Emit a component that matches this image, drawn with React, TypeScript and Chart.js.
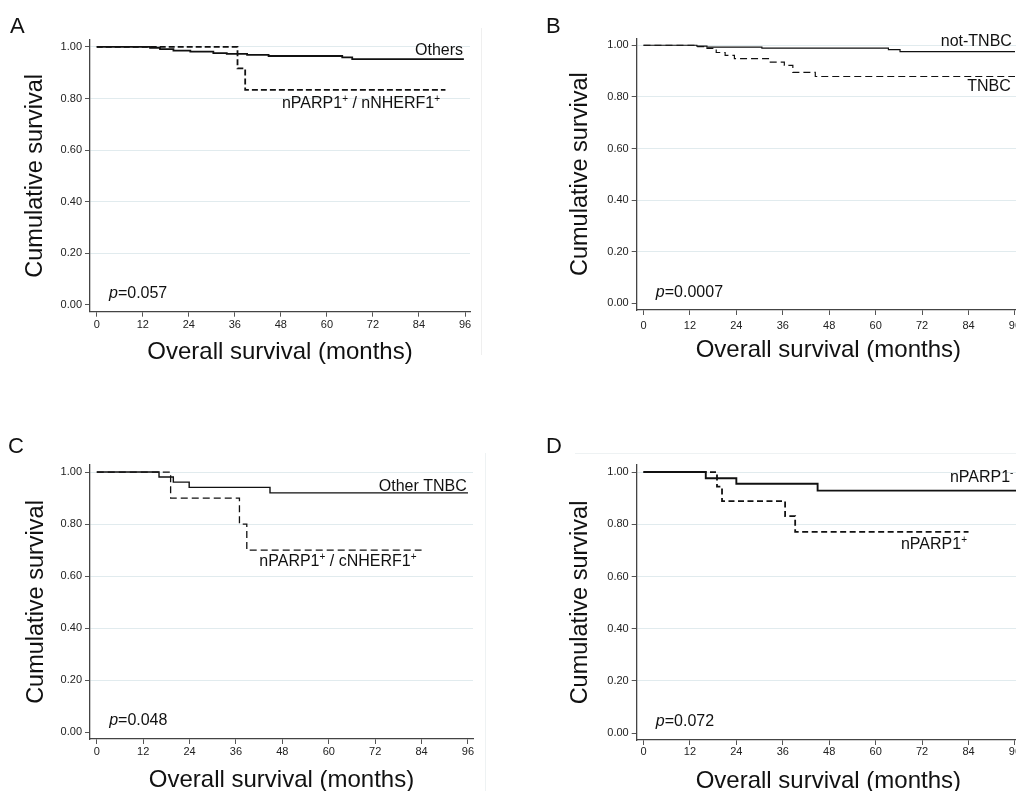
import React, { useEffect, useRef } from "react";
import { Chart, registerables } from "chart.js";

Chart.register(...registerables);

// ---------- data ----------
const xTickValues = [0, 12, 24, 36, 48, 60, 72, 84, 96];
const yTickValues = [0, 0.2, 0.4, 0.6, 0.8, 1.0];
const xAxisTitle = "Overall survival (months)";
const yAxisTitle = "Cumulative survival";
const panelLetters = ["A", "B", "C", "D"];
const pValues = ["p=0.057", "p=0.0007", "p=0.048", "p=0.072"];
const solidNames = ["Others", "not-TNBC", "Other TNBC", "nPARP1⁻"];
const dashedNames = ["nPARP1⁺ / nNHERF1⁺", "TNBC", "nPARP1⁺ / cNHERF1⁺", "nPARP1⁺"];

// Panel A
const aSolidMonths = [0, 13.9, 16.5, 20, 24.4, 30.4, 33.9, 39.2, 44.8, 64, 66.6, 95.7];
const aSolidSurv = [1, 0.997, 0.992, 0.986, 0.982, 0.976, 0.973, 0.969, 0.965, 0.96, 0.953, 0.953];
const aDashMonths = [0, 36.7, 38.7, 90.9];
const aDashSurv = [1, 0.917, 0.834, 0.834];

// Panel B
const bSolidMonths = [0, 13.8, 16.4, 30.6, 63.3, 66.3, 96];
const bSolidSurv = [1, 0.997, 0.993, 0.989, 0.983, 0.975, 0.975];
const bDashMonths = [0, 13.8, 15.9, 18.8, 21.1, 23.5, 32.5, 36.4, 38.6, 44.4, 96];
const bDashSurv = [1, 0.995, 0.988, 0.972, 0.961, 0.948, 0.935, 0.922, 0.895, 0.879, 0.879];

// Panel C
const cSolidMonths = [0, 16.1, 19.8, 23.9, 44.8, 96];
const cSolidSurv = [1, 0.981, 0.961, 0.941, 0.92, 0.92];
const cDashMonths = [0, 19.1, 36.9, 38.8, 84];
const cDashSurv = [1, 0.9, 0.8, 0.7, 0.7];

// Panel D
const dSolidMonths = [0, 16.1, 24, 45, 97];
const dSolidSurv = [1, 0.976, 0.955, 0.929, 0.929];
const dDashMonths = [0, 19, 20.3, 36.6, 39.2, 84];
const dDashSurv = [1, 0.944, 0.889, 0.831, 0.771, 0.771];

// ---------- layout ----------
const FONT = '"Liberation Sans", Arial, Helvetica, sans-serif';

type Series = { months: number[]; surv: number[] };
type Label = { text: string; x: number; y: number; align: "left" | "right"; italicFirst?: boolean };
type PanelSpec = {
  idx: number;
  left: number;
  top: number;
  width: number;
  height: number;
  padTop: number;
  padRight: number;
  yAxisWidth: number;
  xAxisHeight: number;
  xTitlePad: number;
  yTitlePad: number;
  tickPad: number;
  letterX: number;
  solid: Series;
  dashed: Series;
  solidWidth: number;
  dashWidth: number;
  dash: number[];
  solidLabelPos: [number, number];
  dashedLabelPos: [number, number];
};

const panels: PanelSpec[] = [
  {
    idx: 0, left: 0, top: 0, width: 500, height: 400,
    padTop: 40, padRight: 30, yAxisWidth: 90, xAxisHeight: 88.3,
    xTitlePad: 33.6, yTitlePad: 21, tickPad: 1.7, letterX: 10,
    solid: { months: aSolidMonths, surv: aSolidSurv },
    dashed: { months: aDashMonths, surv: aDashSurv },
    solidWidth: 1.8, dashWidth: 1.8, dash: [6, 3],
    solidLabelPos: [95.5, 0.97], dashedLabelPos: [89.5, 0.763],
  },
  {
    idx: 1, left: 520, top: 0, width: 510, height: 400,
    padTop: 38.3, padRight: 10, yAxisWidth: 116.7, xAxisHeight: 90,
    xTitlePad: 35.6, yTitlePad: 46, tickPad: 4.4, letterX: 26,
    solid: { months: bSolidMonths, surv: bSolidSurv },
    dashed: { months: bDashMonths, surv: bDashSurv },
    solidWidth: 1.2, dashWidth: 1.2, dash: [7, 4],
    solidLabelPos: [95.2, 0.997], dashedLabelPos: [94.9, 0.824],
  },
  {
    idx: 2, left: 0, top: 420, width: 500, height: 400,
    padTop: 45, padRight: 27, yAxisWidth: 90, xAxisHeight: 81,
    xTitlePad: 25.6, yTitlePad: 22, tickPad: 1.4, letterX: 8,
    solid: { months: cSolidMonths, surv: cSolidSurv },
    dashed: { months: cDashMonths, surv: cDashSurv },
    solidWidth: 1.4, dashWidth: 1.3, dash: [7, 4],
    solidLabelPos: [95.7, 0.929], dashedLabelPos: [82.7, 0.637],
  },
  {
    idx: 3, left: 520, top: 420, width: 510, height: 400,
    padTop: 45, padRight: 10, yAxisWidth: 116.7, xAxisHeight: 80,
    xTitlePad: 24.6, yTitlePad: 46, tickPad: 0.6, letterX: 26,
    solid: { months: dSolidMonths, surv: dSolidSurv },
    dashed: { months: dDashMonths, surv: dDashSurv },
    solidWidth: 1.9, dashWidth: 1.8, dash: [6, 3.5],
    solidLabelPos: [95.6, 0.96], dashedLabelPos: [83.6, 0.705],
  },
];

// ---------- text helpers ----------
type Seg = { t: string; sup?: boolean; italic?: boolean };

function toSegs(str: string, italicFirst?: boolean): Seg[] {
  const segs: Seg[] = [];
  const chars = Array.from(str);
  chars.forEach((ch, i) => {
    if (ch === "⁺" || ch === "⁻") {
      segs.push({ t: ch === "⁺" ? "+" : "-", sup: true });
      return;
    }
    const italic = !!italicFirst && i === 0;
    const last = segs[segs.length - 1];
    if (last && !last.sup && !!last.italic === italic) last.t += ch;
    else segs.push({ t: ch, italic });
  });
  return segs;
}

function drawRich(ctx: CanvasRenderingContext2D, segs: Seg[], x: number, y: number, size: number, align: "left" | "right") {
  const fontFor = (s: Seg) => `${s.italic ? "italic " : ""}${s.sup ? Math.round(size * 0.62) : size}px ${FONT}`;
  const widths = segs.map((s) => {
    ctx.font = fontFor(s);
    return ctx.measureText(s.t).width;
  });
  const total = widths.reduce((a, b) => a + b, 0);
  let cx = align === "right" ? x - total : x;
  ctx.textAlign = "left";
  ctx.textBaseline = "alphabetic";
  segs.forEach((s, i) => {
    ctx.font = fontFor(s);
    ctx.fillText(s.t, cx, s.sup ? y - size * 0.38 : y);
    cx += widths[i];
  });
}

const kmTextPlugin = {
  id: "kmText",
  afterDraw(chart: any, _args: any, opts: any) {
    const ctx: CanvasRenderingContext2D = chart.ctx;
    const xs = chart.scales.x;
    const ys = chart.scales.y;
    ctx.save();
    ctx.fillStyle = "#111";
    ctx.font = `22px ${FONT}`;
    ctx.textAlign = "left";
    ctx.textBaseline = "alphabetic";
    ctx.fillText(opts.letter, opts.letterX, 33);
    (opts.labels as Label[]).forEach((lab) => {
      drawRich(ctx, toSegs(lab.text, lab.italicFirst), xs.getPixelForValue(lab.x), ys.getPixelForValue(lab.y), 16, lab.align);
    });
    ctx.restore();
  },
};

function KMPanel({ spec }: { spec: PanelSpec }) {
  const ref = useRef<HTMLCanvasElement | null>(null);
  useEffect(() => {
    if (!ref.current) return;
    const toPts = (s: Series) => s.months.map((m, i) => ({ x: m, y: s.surv[i] }));
    const labels: Label[] = [
      { text: solidNames[spec.idx], x: spec.solidLabelPos[0], y: spec.solidLabelPos[1], align: "right" },
      { text: dashedNames[spec.idx], x: spec.dashedLabelPos[0], y: spec.dashedLabelPos[1], align: "right" },
      { text: pValues[spec.idx], x: 3.2, y: 0.026, align: "left", italicFirst: true },
    ];
    const chart = new Chart(ref.current, {
      type: "line",
      data: {
        datasets: [
          {
            label: solidNames[spec.idx],
            data: toPts(spec.solid),
            stepped: true,
            borderColor: "#111",
            borderWidth: spec.solidWidth,
            pointRadius: 0,
            fill: false,
          },
          {
            label: dashedNames[spec.idx],
            data: toPts(spec.dashed),
            stepped: true,
            borderColor: "#111",
            borderWidth: spec.dashWidth,
            borderDash: spec.dash,
            pointRadius: 0,
            fill: false,
          },
        ],
      },
      options: {
        animation: false,
        responsive: false,
        events: [],
        layout: { padding: { left: 0, top: spec.padTop, right: spec.padRight, bottom: 0 } },
        plugins: {
          legend: { display: false },
          tooltip: { enabled: false },
          kmText: { letter: panelLetters[spec.idx], letterX: spec.letterX, labels },
        } as any,
        scales: {
          x: {
            type: "linear",
            min: -1.75,
            max: 97.3,
            afterBuildTicks: (axis: any) => {
              axis.ticks = xTickValues.map((v) => ({ value: v }));
            },
            afterFit: (axis: any) => {
              axis.height = spec.xAxisHeight;
            },
            ticks: {
              autoSkip: false,
              maxRotation: 0,
              padding: spec.tickPad,
              color: "#222",
              font: { size: 11, family: FONT },
              callback: (v: any) => String(v),
            },
            grid: {
              drawOnChartArea: false,
              drawTicks: true,
              tickLength: 5,
              tickColor: "#555",
              color: "#555",
            },
            border: { display: true, color: "#444", width: 1.3 },
            title: {
              display: true,
              text: xAxisTitle,
              color: "#111",
              font: { size: 24, family: FONT },
              padding: { top: 0, bottom: spec.xTitlePad },
            },
          },
          y: {
            type: "linear",
            min: -0.026,
            max: 1.027,
            afterBuildTicks: (axis: any) => {
              axis.ticks = yTickValues.map((v) => ({ value: v }));
            },
            afterFit: (axis: any) => {
              axis.width = spec.yAxisWidth;
            },
            ticks: {
              padding: 3,
              color: "#222",
              font: { size: 11, family: FONT },
              callback: (v: any) => Number(v).toFixed(2),
            },
            grid: {
              drawTicks: true,
              tickLength: 5,
              tickColor: "#555",
              lineWidth: 1,
              color: (c: any) => (c.tick && c.tick.value === 0 ? "rgba(0,0,0,0)" : "#e1ebee"),
            },
            border: { display: true, color: "#444", width: 1.3 },
            title: {
              display: true,
              text: yAxisTitle,
              color: "#111",
              font: { size: 23.5, family: FONT },
              padding: { top: spec.yTitlePad, bottom: 0 },
            },
          },
        },
      },
      plugins: [kmTextPlugin as any],
    });
    return () => chart.destroy();
  }, [spec]);
  return (
    <canvas
      ref={ref}
      width={spec.width}
      height={spec.height}
      style={{ position: "absolute", left: spec.left, top: spec.top, width: spec.width, height: spec.height }}
    />
  );
}

export default function App() {
  return (
    <div
      style={{
        position: "fixed",
        left: 0,
        top: 0,
        width: 1016,
        height: 791,
        overflow: "hidden",
        background: "#fff",
      }}
    >
      <div style={{ position: "absolute", left: 481, top: 28, width: 1, height: 327, background: "#efefef" }} />
      <div style={{ position: "absolute", left: 485, top: 453, width: 1, height: 338, background: "#eef2f3" }} />
      <div style={{ position: "absolute", left: 575, top: 453, width: 441, height: 1, background: "#eef2f3" }} />
      {panels.map((p) => (
        <KMPanel key={p.idx} spec={p} />
      ))}
    </div>
  );
}
